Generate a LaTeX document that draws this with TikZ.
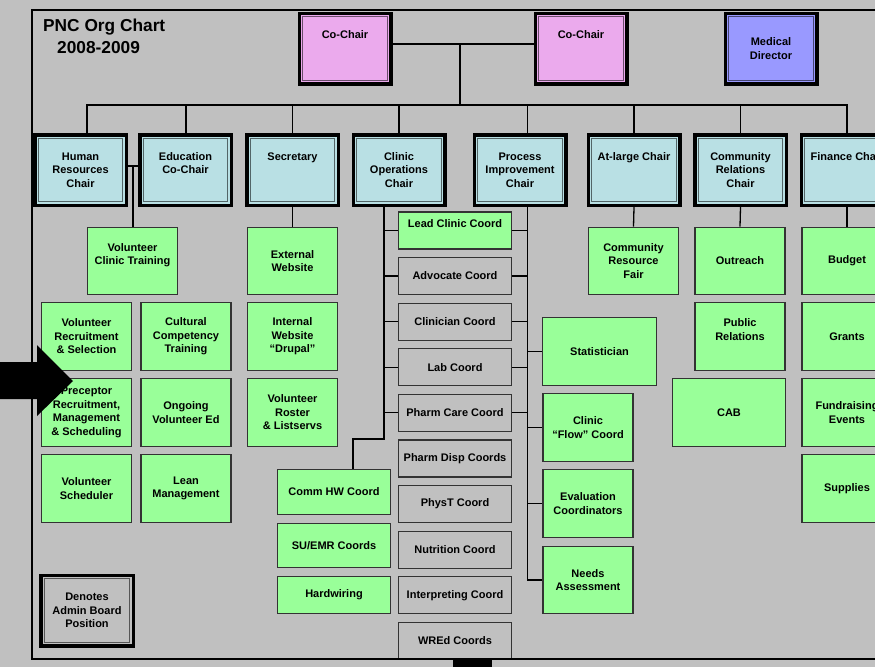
\documentclass[tikz,border=0pt]{standalone}
\usepackage{fontspec}
\setmainfont{Liberation Sans}
\definecolor{bggray}{RGB}{192,192,192}
\definecolor{cochair}{RGB}{235,170,237}
\definecolor{meddir}{RGB}{153,153,255}
\definecolor{chairblue}{RGB}{185,224,228}
\definecolor{grn}{RGB}{153,255,153}
\tikzset{
  chairbox/.style={draw=black, line width=3.5pt, fill=#1, minimum width=91.5pt, minimum height=70.5pt, inner sep=0pt, align=center,
    font=\fontsize{11}{13.5}\selectfont\bfseries,
    path picture={\draw[line width=1pt, draw=#1!45!black] ([shift={(3.4pt,-3.4pt)}]path picture bounding box.north west) rectangle ([shift={(-3.4pt,3.4pt)}]path picture bounding box.south east);}},
  dutybox/.style={draw=black!80, line width=1.2pt, fill=#1, inner sep=0pt, align=center, font=\fontsize{11}{13.5}\selectfont\bfseries},
  cell/.style={minimum width=90pt, minimum height=67.5pt},
  slot/.style={minimum width=113pt, minimum height=37pt},
  link/.style={draw=black, line width=1.3pt}
}
\begin{document}
\begin{tikzpicture}[x=1pt,y=-1pt]
\useasboundingbox (0,0) rectangle (875,667);
\clip (0,0) rectangle (875,667);
\fill[bggray] (0,0) rectangle (875,667);

\node[anchor=north west, align=left, inner sep=0pt, font=\fontsize{17.3}{22}\selectfont\bfseries] (title) at (43,19) {PNC Org Chart\\\hspace{14pt}2008-2009};

% board
\node[chairbox=cochair] (cochairA) at (345,48.5) {Co-Chair\\~\\~};
\node[chairbox=cochair] (cochairB) at (581,48.5) {Co-Chair\\~\\~};
\node[chairbox=meddir] (meddir) at (771,48.5) {Medical\\Director};

\node[chairbox=chairblue] (hr) at (80.5,170) {Human\\Resources\\Chair};
\node[chairbox=chairblue] (edu) at (185.5,170) {Education\\Co-Chair\\~};
\node[chairbox=chairblue] (sec) at (292.5,170) {Secretary\\~\\~};
\node[chairbox=chairblue] (clinops) at (399,170) {Clinic\\Operations\\Chair};
\node[chairbox=chairblue] (procimp) at (520,170) {Process\\Improvement\\Chair};
\node[chairbox=chairblue] (atlarge) at (634,170) {At-large Chair\\~\\~};
\node[chairbox=chairblue] (commrel) at (740.5,170) {Community\\Relations\\Chair};
\node[chairbox=chairblue] (finance) at (847,170) {Finance Chair\\~\\~};

% human resources / education
\node[dutybox=grn, cell] (vct) at (132.5,261) {Volunteer\\Clinic Training\\~};
\node[dutybox=grn, cell] (vrs) at (86.5,336.5) {Volunteer\\Recruitment\\\& Selection};
\node[dutybox=grn, cell] (cct) at (186,336.5) {Cultural\\Competency\\Training};
\node[dutybox=grn, cell] (prec) at (86.5,412.5) {Preceptor\\Recruitment,\\Management\\\& Scheduling};
\node[dutybox=grn, cell] (ove) at (186,412.5) {Ongoing\\Volunteer Ed};
\node[dutybox=grn, cell] (vsch) at (86.5,488.5) {Volunteer\\Scheduler};
\node[dutybox=grn, cell] (lean) at (186,488.5) {Lean\\Management};

\node[chairbox=bggray, minimum width=92.5pt] (legend) at (87,610.5) {Denotes\\Admin Board\\Position};

% secretary
\node[dutybox=grn, cell] (extweb) at (292.5,261) {External\\Website};
\node[dutybox=grn, cell] (intweb) at (292.5,336.5) {Internal\\Website\\“Drupal”};
\node[dutybox=grn, cell] (roster) at (292.5,412.5) {Volunteer\\Roster\\\& Listservs};

% clinic coordinators
\node[dutybox=grn, slot] (lead) at (455,230.5) {Lead Clinic Coord\\~};
\node[dutybox=bggray, slot] (advocate) at (455,276) {Advocate Coord};
\node[dutybox=bggray, slot] (clinician) at (455,321.6) {Clinician Coord};
\node[dutybox=bggray, slot] (lab) at (455,367.2) {Lab Coord};
\node[dutybox=bggray, slot] (pharmcare) at (455,412.8) {Pharm Care Coord};
\node[dutybox=bggray, slot] (pharmdisp) at (455,458.4) {Pharm Disp Coords};
\node[dutybox=bggray, slot] (physt) at (455,504) {PhysT Coord};
\node[dutybox=bggray, slot] (nutrition) at (455,549.6) {Nutrition Coord};
\node[dutybox=bggray, slot] (interp) at (455,595.2) {Interpreting Coord};
\node[dutybox=bggray, slot] (wred) at (455,640.8) {WREd Coords};

\node[dutybox=grn, slot, minimum height=45pt] (commhw) at (334,492) {Comm HW Coord};
\node[dutybox=grn, slot, minimum height=44pt] (suemr) at (334,545.5) {SU/EMR Coords};
\node[dutybox=grn, slot] (hardwiring) at (334,595) {Hardwiring};

% process improvement
\node[dutybox=grn, cell, minimum width=114pt] (stat) at (599.5,351.5) {Statistician};
\node[dutybox=grn, cell] (flow) at (588,427.5) {Clinic\\“Flow” Coord};
\node[dutybox=grn, cell] (eval) at (588,503.5) {Evaluation\\Coordinators};
\node[dutybox=grn, cell] (needs) at (588,580) {Needs\\Assessment};

% at-large, community, finance
\node[dutybox=grn, cell] (crf) at (633.5,261) {Community\\Resource\\Fair};
\node[dutybox=grn, cell] (outreach) at (740,261) {Outreach};
\node[dutybox=grn, cell] (pubrel) at (740,336.5) {Public\\Relations\\~};
\node[dutybox=grn, cell, minimum width=113pt] (cab) at (729,412.5) {CAB};
\node[dutybox=grn, cell] (budget) at (847,261) {Budget};
\node[dutybox=grn, cell] (grants) at (847,336.5) {Grants};
\node[dutybox=grn, cell] (fundraising) at (847,412.5) {Fundraising\\Events};
\node[dutybox=grn, cell] (supplies) at (847,488.5) {Supplies};

% connectors
\coordinate (cochairjoin) at (460,44);
\coordinate (bus) at (460,105);
\draw[link] ([yshift=4.5pt]cochairA.east) -- ([yshift=4.5pt]cochairB.west);
\draw[link] (cochairjoin) -- (bus);
\draw[link] (bus) -| ([xshift=6.5pt]hr.north);
\draw[link] (bus) -| ([xshift=0.5pt]edu.north);
\draw[link] (bus) -| (sec.north);
\draw[link] (bus) -| (clinops.north);
\draw[link] (bus) -| ([xshift=7.5pt]procimp.north);
\draw[link] (bus) -| (atlarge.north);
\draw[link] (bus) -| (commrel.north);
\draw[link] (bus) -| (finance.north);

\coordinate (hredu) at (133,166);
\draw[link] ([yshift=4pt]hr.east) -- ([yshift=4pt]edu.west);
\draw[link] (hredu) -- (hredu |- vct.north);
\draw[link] (sec.south) -- (extweb.north);

\coordinate (opstop) at ([xshift=-15pt]clinops.south);
\coordinate (opsjog) at (384,439);
\draw[link] (opstop) |- (lead.west);
\draw[link] (opstop) |- (advocate.west);
\draw[link] (opstop) |- (clinician.west);
\draw[link] (opstop) |- (lab.west);
\draw[link] (opstop) |- (pharmcare.west);
\draw[link] (opstop) -- (opsjog) -| ([xshift=19pt]commhw.north);

\coordinate (proctop) at ([xshift=7.5pt]procimp.south);
\draw[link] (proctop) |- (lead.east);
\draw[link] (proctop) |- (advocate.east);
\draw[link] (proctop) |- (clinician.east);
\draw[link] (proctop) |- (lab.east);
\draw[link] (proctop) |- (pharmcare.east);
\draw[link] (proctop) |- (stat.west);
\draw[link] (proctop) |- (flow.west);
\draw[link] (proctop) |- (eval.west);
\draw[link] (proctop) |- (needs.west);

\draw[link] (atlarge.south) -- (crf.north);
\draw[link] (commrel.south) -- (outreach.north);
\draw[link] (finance.south) -- (budget.north);

% frame and markers
\draw[line width=2pt] (32,10) rectangle (910,659);
\fill (0,362) -- (37,362) -- (37,345) -- (73,381) -- (37,416) -- (37,399) -- (0,399) -- cycle;
\fill (453,658) rectangle (492,667);
\end{tikzpicture}
\end{document}
